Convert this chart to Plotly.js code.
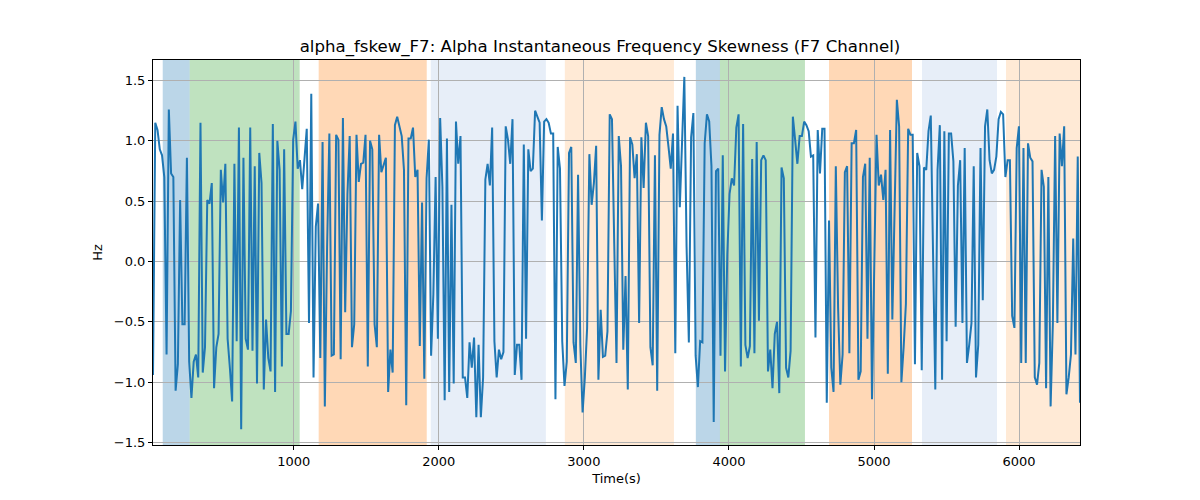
<!DOCTYPE html>
<html>
<head>
<meta charset="utf-8">
<script src="https://cdn.plot.ly/plotly-3.1.0.min.js"></script>
<style>body{margin:0;background:#fff}#chart{width:1200px;height:500px}</style>
</head>
<body>
<div id="chart"></div>
<script>
// skewness values (Hz), evenly spaced in time
const values = [
-0.94,1.15,1.09,0.93,0.88,0.70,-0.77,1.26,0.73,0.70,-1.07,-0.85,0.51,-0.52,-0.52,0.86,-0.83,-1.13,-0.83,-0.77,
-0.96,1.15,-0.92,-0.71,0.51,0.48,0.65,-1.05,-0.71,-0.60,0.76,0.49,0.81,-0.64,-0.88,-1.16,0.81,-0.66,1.11,-1.39,
0.86,-0.64,-0.73,1.11,-0.74,0.79,-1.01,0.90,0.65,-1.06,-0.48,-0.80,-0.91,1.14,-1.08,1.00,0.76,-0.87,0.93,-0.60,
-0.60,-0.41,1.01,1.16,0.77,0.84,0.60,0.90,1.10,-0.51,1.39,-0.96,0.29,0.48,-0.80,0.99,-1.20,0.12,1.06,-0.78,
-0.77,1.05,1.01,-0.81,1.19,-0.42,0.56,1.04,-0.71,-0.52,1.05,0.66,0.81,0.82,1.05,-0.87,1.00,0.93,-0.52,-0.71,
1.05,0.74,0.81,0.86,-1.08,-0.73,-0.92,1.13,1.20,1.13,1.04,0.76,-1.19,1.02,1.02,1.11,0.70,0.76,-0.70,0.49,
-0.97,0.69,1.01,-0.78,-0.27,0.70,-0.64,1.19,
0.62,-1.15,1.02,-1.08,0.47,-1.01,1.16,0.81,1.04,-0.96,-0.96,-1.13,-0.67,-0.88,-0.63,-1.29,-0.69,-1.29,-0.96,0.68,
0.81,0.63,1.11,-0.66,-0.96,-0.73,-0.81,-0.75,1.12,1.01,0.81,1.18,-0.94,-0.69,-0.69,-0.98,0.97,-0.64,0.93,0.75,
0.77,1.25,1.19,1.15,0.34,1.16,1.18,1.15,1.06,1.06,-1.14,0.95,0.77,-0.66,-1.03,-0.83,0.90,0.95,-0.67,-0.84,
0.72,-0.69,-1.25,-0.96,-0.55,0.89,0.47,0.65,0.96,-0.98,-0.40,-0.79,-0.78,-0.58,1.22,1.18,0.15,-0.84,1.04,0.79,
-0.73,-0.12,-1.06,1.03,0.97,0.69,0.89,-0.51,1.03,0.61,1.15,1.04,-0.71,-0.86,0.88,-1.07,1.05,1.28,1.18,1.12,
0.95,0.77,1.06,-0.76,1.29,0.45,0.99,1.53,0.12,-0.67,1.03,1.23,-0.78,-1.04,-0.66,-0.67,0.98,1.22,1.16,0.79,
-1.33,0.75,0.77,-0.78,0.88,-0.91,0.06,0.56,0.69,0.63,1.11,1.22,-0.87,1.14,-0.69,-0.80,-0.70,0.85,-0.76,0.99,
-0.49,0.84,
0.88,0.84,-0.91,-0.73,-1.05,-0.60,-0.50,-1.09,0.78,0.69,-0.88,-0.96,-0.74,1.20,1.01,0.81,1.04,1.04,1.16,1.13,
1.08,0.87,0.88,-0.63,1.09,0.73,1.10,1.10,-1.17,0.34,-0.88,-1.08,0.79,-0.38,-1.02,-0.77,0.74,0.79,-0.76,0.98,
0.98,1.09,-0.98,-0.91,0.70,0.81,-0.64,0.86,-1.14,-0.10,1.05,0.63,0.72,0.51,0.76,-0.93,1.09,-0.48,0.51,1.34,
1.12,-1.00,-0.71,-0.35,1.10,1.05,1.05,-0.85,0.90,0.79,-0.90,0.78,0.76,1.08,1.21,0.01,-1.06,0.76,1.13,-0.98,
1.08,-0.66,1.06,1.06,0.83,-0.54,0.63,0.84,-0.51,0.94,-0.84,-0.69,-0.51,0.79,-0.96,-0.69,0.94,-0.32,1.12,1.26,
0.84,0.73,0.76,0.87,1.18,1.24,1.22,0.70,0.84,0.84,-0.45,-0.55,0.94,1.12,-0.84,0.94,-0.84,0.98,0.86,0.83,
-0.96,-1.02,-0.84,0.76,0.62,-1.05,0.70,-1.20,-0.51,1.04,-0.51,1.06,0.79,1.12,-1.10,-0.96,-0.77,0.19,-0.77,0.87,
-1.17
];
const tStart = 30;
const tEnd = 6420;
const times = values.map((_, i) => tStart + i * (tEnd - tStart) / (values.length - 1));

// shaded segments: [start, end, colour]
const bandStart = [97, 283, 1172, 1945, 2869, 3772, 3938, 4690, 5331, 5910];
const bandEnd   = [283, 1041, 1917, 2738, 3621, 3938, 4524, 5262, 5848, 6430];
const bandColor = ["rgba(31,119,180,0.3)", "rgba(44,160,44,0.3)", "rgba(255,127,14,0.3)",
                   "rgba(174,199,232,0.3)", "rgba(255,187,120,0.3)",
                   "rgba(31,119,180,0.3)", "rgba(44,160,44,0.3)", "rgba(255,127,14,0.3)",
                   "rgba(174,199,232,0.3)", "rgba(255,187,120,0.3)"];

const shapes = bandStart.map((s, i) => ({
    type: "rect", xref: "x", yref: "paper", x0: s, x1: bandEnd[i], y0: 0, y1: 1,
    fillcolor: bandColor[i], line: { width: 0 }, layer: "below"
}));

const trace = {
    type: "scatter", mode: "lines", x: times, y: values,
    line: { color: "#1f77b4", width: 2 }
};

const axisCommon = {
    showgrid: true, gridcolor: "#b0b0b0", gridwidth: 1,
    showline: true, linecolor: "#000", mirror: true,
    ticks: "outside", ticklen: 4, tickcolor: "#000", zeroline: false,
    tickfont: { size: 13, color: "#000" }
};

const layout = {
    width: 1200, height: 500,
    margin: { l: 153, r: 120, t: 60, b: 55 },
    paper_bgcolor: "#fff", plot_bgcolor: "rgba(0,0,0,0)",
    font: { family: "DejaVu Sans", color: "#000" },
    showlegend: false,
    title: { text: "alpha_fskew_F7: Alpha Instantaneous Frequency Skewness (F7 Channel)",
             font: { size: 16.6 }, x: 0.5, xanchor: "center", y: 0.92 },
    xaxis: Object.assign({}, axisCommon, {
        range: [tStart, tEnd], tickvals: [1000, 2000, 3000, 4000, 5000, 6000],
        title: { text: "Time(s)", font: { size: 13 }, standoff: 6 }
    }),
    yaxis: Object.assign({}, axisCommon, {
        range: [-1.52, 1.67], tickvals: [-1.5, -1, -0.5, 0, 0.5, 1, 1.5],
        ticktext: ["−1.5", "−1.0", "−0.5", "0.0", "0.5", "1.0", "1.5"],
        title: { text: "Hz", font: { size: 13 }, standoff: 8 }
    }),
    shapes: shapes
};

Plotly.newPlot("chart", [trace], layout, { staticPlot: true });
</script>
</body>
</html>
